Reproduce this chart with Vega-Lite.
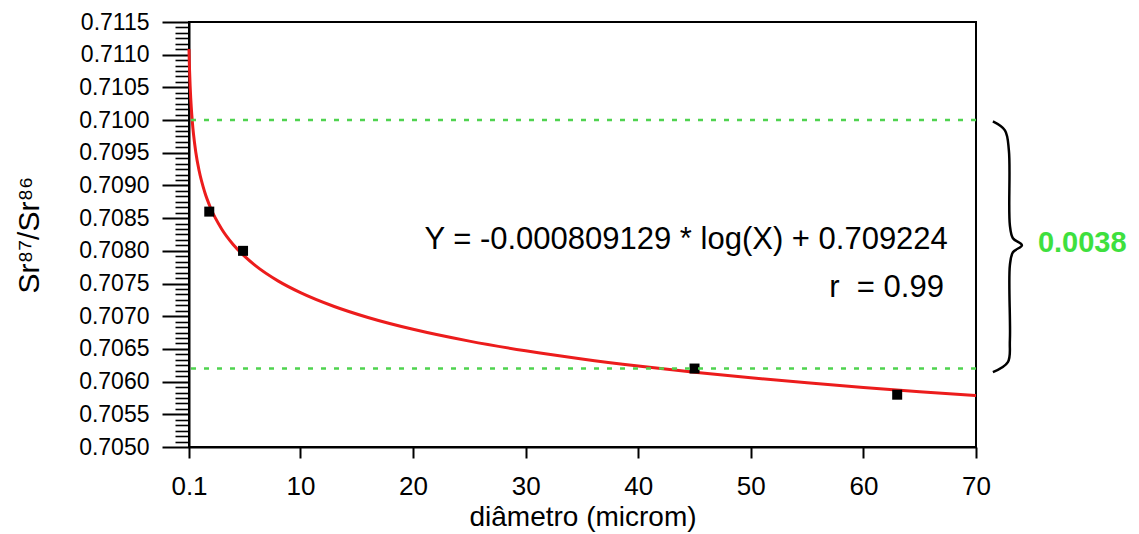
{
  "$schema": "https://vega.github.io/schema/vega-lite/v6.json",
  "width": 787,
  "height": 425,
  "autosize": {"type": "none"},
  "padding": {"left": 189, "top": 22, "right": 163, "bottom": 87},
  "background": "white",
  "config": {
    "view": {"stroke": "black", "strokeWidth": 2},
    "font": "Liberation Sans",
    "axis": {
      "domainColor": "black",
      "domainWidth": 2,
      "tickColor": "black",
      "labelColor": "black",
      "titleColor": "black",
      "titleFontWeight": "normal",
      "labelFlush": false,
      "labelOverlap": false,
      "labelBound": false,
      "grid": false
    }
  },
  "datasets": {
    "curve": [
      {"x": 0.1, "y": 0.711087}, {"x": 0.12, "y": 0.71094}, {"x": 0.15, "y": 0.710759},
      {"x": 0.2, "y": 0.710526}, {"x": 0.25, "y": 0.710346}, {"x": 0.3, "y": 0.710198},
      {"x": 0.4, "y": 0.709965}, {"x": 0.5, "y": 0.709785}, {"x": 0.7, "y": 0.709513},
      {"x": 1, "y": 0.709224}, {"x": 1.5, "y": 0.708896}, {"x": 2, "y": 0.708663},
      {"x": 3, "y": 0.708335}, {"x": 4, "y": 0.708102}, {"x": 5, "y": 0.707922},
      {"x": 6, "y": 0.707774}, {"x": 8, "y": 0.707541}, {"x": 10, "y": 0.707361},
      {"x": 13, "y": 0.707149}, {"x": 16, "y": 0.706981}, {"x": 20, "y": 0.7068},
      {"x": 25, "y": 0.706619}, {"x": 30, "y": 0.706472}, {"x": 35, "y": 0.706347},
      {"x": 40, "y": 0.706239}, {"x": 45, "y": 0.706144}, {"x": 50, "y": 0.706059},
      {"x": 55, "y": 0.705982}, {"x": 60, "y": 0.705911}, {"x": 65, "y": 0.705846},
      {"x": 70, "y": 0.705786}
    ],
    "points": [
      {"x": 1.9, "y": 0.7086},
      {"x": 4.9, "y": 0.708},
      {"x": 45, "y": 0.7062},
      {"x": 63, "y": 0.7058}
    ],
    "refs": [{"v": 0.71}, {"v": 0.7062}],
    "brace": [
      {"o": 1, "x": 71.5, "y": 0.70998},
      {"o": 2, "x": 72.57, "y": 0.709843},
      {"o": 3, "x": 72.92, "y": 0.709537},
      {"o": 4, "x": 73.01, "y": 0.708391},
      {"o": 5, "x": 73.28, "y": 0.708193},
      {"o": 6, "x": 74.08, "y": 0.708086},
      {"o": 7, "x": 73.28, "y": 0.707979},
      {"o": 8, "x": 73.01, "y": 0.70778},
      {"o": 9, "x": 73.01, "y": 0.706635},
      {"o": 10, "x": 72.83, "y": 0.706299},
      {"o": 11, "x": 71.5, "y": 0.706146}
    ],
    "eq": [
      {"x": 67.5, "y": 0.708162, "t": "Y = -0.000809129 * log(X) + 0.709224"},
      {"x": 67.15, "y": 0.707429, "t": "r\u00a0\u00a0= 0.99"}
    ],
    "diff": [{"x": 75.5, "y": 0.708116, "t": "0.0038"}]
  },
  "layer": [
    {
      "data": {"name": "curve"},
      "mark": {"type": "line", "interpolate": "monotone", "color": "#ec1c1c", "strokeWidth": 3},
      "encoding": {
        "x": {
          "field": "x", "type": "quantitative",
          "scale": {"domain": [0.1, 70], "nice": false, "zero": false},
          "axis": {"orient": "bottom", "values": [0.1, 10, 20, 30, 40, 50, 60, 70], "format": ".1~f", "tickSize": 11, "tickWidth": 2, "labelFontSize": 26, "labelPadding": 15, "title": "diâmetro (microm)", "titleFontSize": 28, "titlePadding": 4}
        },
        "y": {
          "field": "y", "type": "quantitative",
          "scale": {"domain": [0.705, 0.7115], "nice": false, "zero": false},
          "axis": {
            "orient": "left",
            "values": [0.7050833, 0.7051667, 0.70525, 0.7053333, 0.7054167,
              0.7055833, 0.7056667, 0.70575, 0.7058333, 0.7059167,
              0.7060833, 0.7061667, 0.70625, 0.7063333, 0.7064167,
              0.7065833, 0.7066667, 0.70675, 0.7068333, 0.7069167,
              0.7070833, 0.7071667, 0.70725, 0.7073333, 0.7074167,
              0.7075833, 0.7076667, 0.70775, 0.7078333, 0.7079167,
              0.7080833, 0.7081667, 0.70825, 0.7083333, 0.7084167,
              0.7085833, 0.7086667, 0.70875, 0.7088333, 0.7089167,
              0.7090833, 0.7091667, 0.70925, 0.7093333, 0.7094167,
              0.7095833, 0.7096667, 0.70975, 0.7098333, 0.7099167,
              0.7100833, 0.7101667, 0.71025, 0.7103333, 0.7104167,
              0.7105833, 0.7106667, 0.71075, 0.7108333, 0.7109167,
              0.7110833, 0.7111667, 0.71125, 0.7113333, 0.7114167],
            "labels": false,
            "domain": false,
            "tickSize": 14,
            "tickWidth": 1.6,
            "title": null
          }
        }
      }
    },
    {
      "data": {"name": "points"},
      "mark": {"type": "point", "shape": "square", "filled": true, "size": 100, "color": "black", "opacity": 1},
      "encoding": {
        "x": {"field": "x", "type": "quantitative", "scale": {"domain": [0.1, 70], "nice": false, "zero": false},
          "axis": {"orient": "bottom", "values": [0.1, 10, 20, 30, 40, 50, 60, 70], "format": ".1~f", "tickSize": 11, "tickWidth": 2, "labelFontSize": 26, "labelPadding": 15, "title": "diâmetro (microm)", "titleFontSize": 28, "titlePadding": 4}},
        "y": {
          "field": "y", "type": "quantitative",
          "scale": {"domain": [0.705, 0.7115], "nice": false, "zero": false},
          "axis": {
            "orient": "left",
            "values": [0.705, 0.7055, 0.706, 0.7065, 0.707, 0.7075, 0.708, 0.7085, 0.709, 0.7095, 0.71, 0.7105, 0.711, 0.7115],
            "format": ".4f",
            "domain": true,
            "tickSize": 27,
            "tickWidth": 2,
            "labelFontSize": 23,
            "labelPadding": 13,
            "title": "Sr⁸⁷/Sr⁸⁶",
            "titleFontSize": 30,
            "titlePadding": 34
          }
        }
      }
    },
    {
      "data": {"name": "refs"},
      "mark": {"type": "rule", "color": "#4fd34f", "strokeWidth": 2.5, "strokeDash": [5, 8]},
      "encoding": {
        "y": {"field": "v", "type": "quantitative", "scale": {"domain": [0.705, 0.7115], "nice": false, "zero": false}, "axis": null}
      }
    },
    {
      "data": {"name": "brace"},
      "mark": {"type": "line", "interpolate": "catmull-rom", "color": "black", "strokeWidth": 2.5, "clip": false},
      "encoding": {
        "x": {"field": "x", "type": "quantitative", "scale": {"domain": [0.1, 70], "nice": false, "zero": false},
          "axis": {"orient": "bottom", "values": [0.1, 10, 20, 30, 40, 50, 60, 70], "format": ".1~f", "tickSize": 11, "tickWidth": 2, "labelFontSize": 26, "labelPadding": 15, "title": "diâmetro (microm)", "titleFontSize": 28, "titlePadding": 4}},
        "y": {"field": "y", "type": "quantitative", "scale": {"domain": [0.705, 0.7115], "nice": false, "zero": false}, "axis": null},
        "order": {"field": "o", "type": "quantitative"}
      }
    },
    {
      "data": {"name": "eq"},
      "mark": {"type": "text", "align": "right", "baseline": "middle", "fontSize": 31, "color": "black", "clip": false},
      "encoding": {
        "x": {"field": "x", "type": "quantitative", "scale": {"domain": [0.1, 70], "nice": false, "zero": false},
          "axis": {"orient": "bottom", "values": [0.1, 10, 20, 30, 40, 50, 60, 70], "format": ".1~f", "tickSize": 11, "tickWidth": 2, "labelFontSize": 26, "labelPadding": 15, "title": "diâmetro (microm)", "titleFontSize": 28, "titlePadding": 4}},
        "y": {"field": "y", "type": "quantitative", "scale": {"domain": [0.705, 0.7115], "nice": false, "zero": false}, "axis": null},
        "text": {"field": "t"}
      }
    },
    {
      "data": {"name": "diff"},
      "mark": {"type": "text", "align": "left", "baseline": "middle", "fontSize": 29, "fontWeight": "bold", "color": "#3ee03e", "clip": false},
      "encoding": {
        "x": {"field": "x", "type": "quantitative", "scale": {"domain": [0.1, 70], "nice": false, "zero": false},
          "axis": {"orient": "bottom", "values": [0.1, 10, 20, 30, 40, 50, 60, 70], "format": ".1~f", "tickSize": 11, "tickWidth": 2, "labelFontSize": 26, "labelPadding": 15, "title": "diâmetro (microm)", "titleFontSize": 28, "titlePadding": 4}},
        "y": {"field": "y", "type": "quantitative", "scale": {"domain": [0.705, 0.7115], "nice": false, "zero": false}, "axis": null},
        "text": {"field": "t"}
      }
    }
  ],
  "resolve": {"axis": {"y": "independent"}}
}
